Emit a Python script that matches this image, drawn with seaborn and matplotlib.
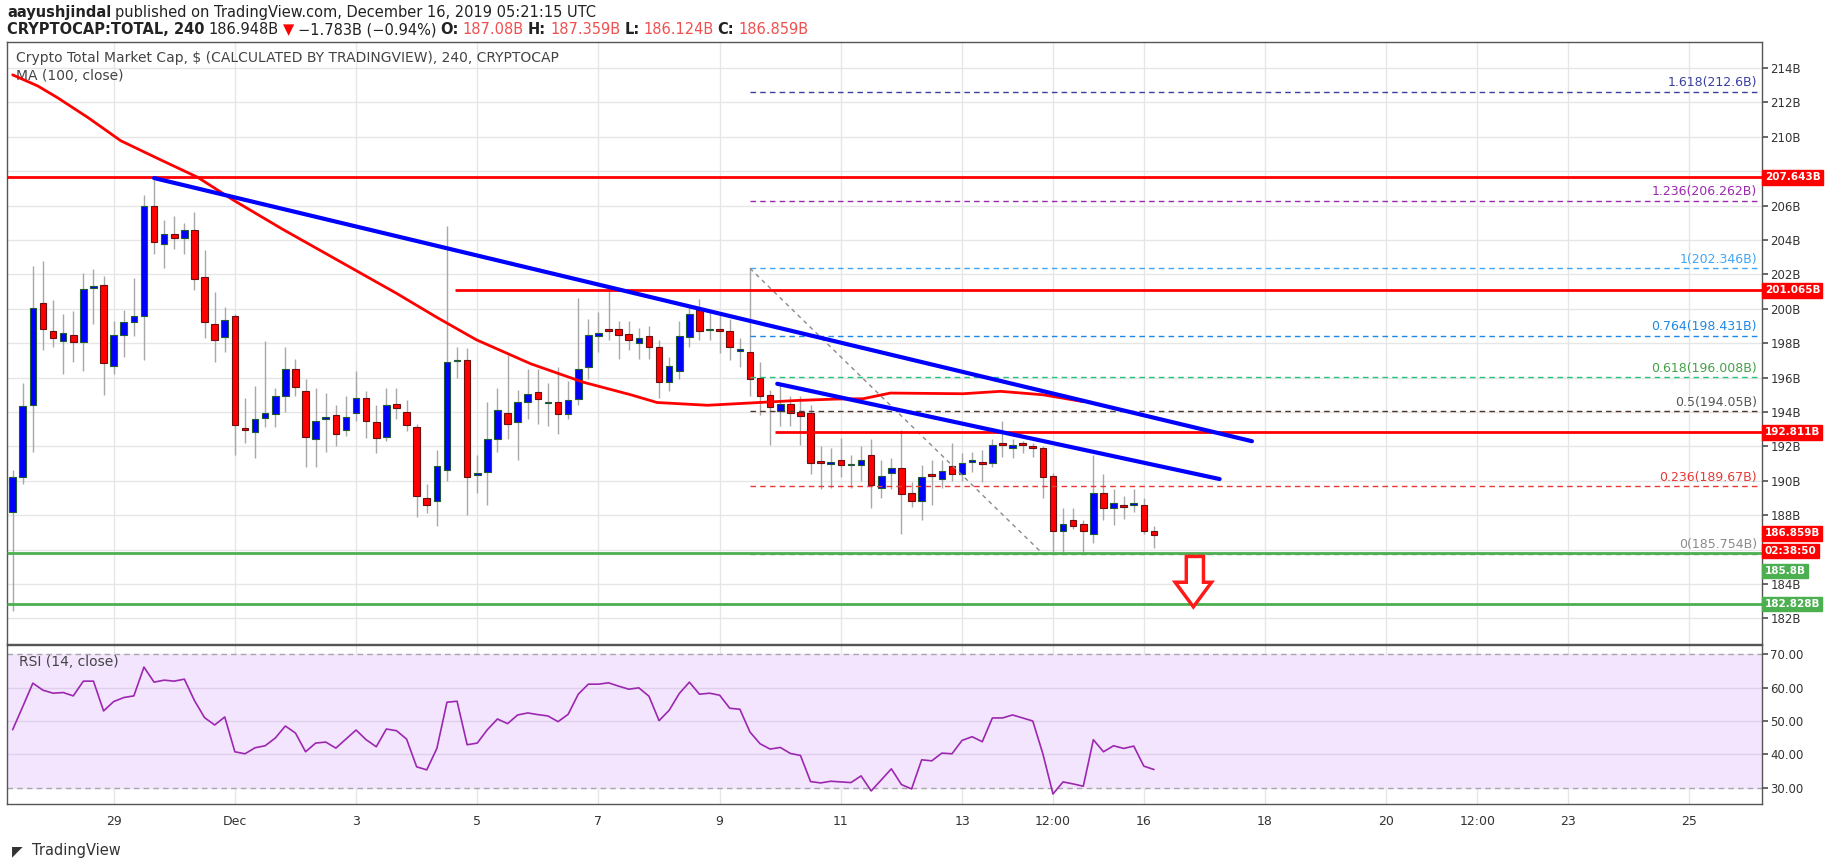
import numpy as np
import pandas as pd
import seaborn as sns
import matplotlib.pyplot as plt
from matplotlib.patches import Polygon
from matplotlib.transforms import blended_transform_factory

# 4h candles, index 0 = Nov 27 ~08:00
opens = [188.2, 190.2, 194.4, 200.35, 198.7, 198.1, 198.5, 198.05, 201.2, 201.4,
         196.65, 198.5, 199.25, 199.6, 205.95, 203.75, 204.37, 204.1, 204.6, 201.85,
         199.14, 198.33, 199.6, 193.0, 192.85, 193.65, 193.9, 194.9, 196.5, 195.2,
         192.4, 193.6, 193.8, 192.96, 193.94, 194.8, 193.4, 192.56, 194.46, 194.0,
         193.14, 188.98, 188.8, 190.64, 196.95, 197.05, 190.35, 190.5, 192.4, 193.94,
         193.4, 194.6, 195.15, 194.5, 194.57, 193.9, 194.75, 196.6, 198.39, 198.75,
         198.8, 198.56, 198.0, 198.4, 197.8, 195.73, 196.4, 198.33, 199.94, 198.75,
         198.75, 198.7, 197.55, 197.46, 196.0, 194.96, 194.06, 194.44, 193.98, 193.94,
         191.15, 191.0, 191.23, 190.9, 190.9, 191.5, 189.6, 190.43, 190.77, 189.3,
         188.8, 190.4, 190.1, 190.83, 190.4, 191.12, 191.06, 191.06, 192.12, 191.9,
         192.12, 192.0, 191.9, 190.3, 187.1, 187.7, 187.5, 186.9, 189.3, 188.4,
         188.52, 188.58, 188.6, 187.08]
highs = [190.6, 195.7, 202.5, 202.8, 200.5, 199.7, 199.85, 202.1, 202.3, 201.9,
         199.3, 199.9, 201.8, 206.6, 207.5, 205.15, 205.4, 205.0, 205.6, 203.4,
         201.0, 200.1, 199.7, 194.8, 195.5, 198.1, 195.4, 197.75, 197.1, 195.9,
         195.4, 195.1, 194.4, 194.9, 196.4, 195.2, 194.4, 195.4, 195.4, 194.7,
         193.3, 189.8, 191.8, 204.8, 197.75, 197.7, 191.5, 194.6, 195.4, 197.3,
         195.3, 196.5, 196.5, 195.7, 196.6, 195.8, 200.6, 199.4, 199.8, 201.1,
         199.3, 199.3, 198.9, 199.0, 198.2, 197.2, 199.3, 200.2, 200.54, 200.0,
         199.7, 199.4, 198.3, 202.35, 196.9, 195.3, 195.7, 194.9, 194.9, 194.4,
         192.0, 191.9, 192.5, 191.5, 192.0, 192.4, 191.2, 191.3, 192.95, 189.9,
         190.9, 191.2, 191.2, 192.2, 191.6, 191.7, 191.8, 192.4, 193.5, 192.4,
         192.3, 192.2, 192.0, 190.46, 188.4, 188.4, 187.7, 191.5, 190.4, 189.5,
         189.1, 189.5, 189.0, 187.36]
lows = [182.4, 189.8, 191.7, 197.6, 197.8, 196.2, 196.9, 196.4, 199.1, 195.0,
        196.2, 197.2, 198.4, 197.0, 203.2, 202.35, 203.45, 203.2, 201.1, 198.3,
        196.9, 197.5, 191.5, 192.2, 191.3, 193.1, 193.1, 194.0, 194.9, 190.8,
        190.8, 191.7, 192.0, 192.6, 193.5, 192.5, 191.6, 192.3, 193.6, 192.9,
        187.9, 188.1, 187.35, 190.0, 196.0, 188.0, 189.3, 188.6, 191.7, 192.4,
        191.2, 193.6, 193.3, 193.2, 192.7, 193.6, 194.4, 195.9, 197.5, 198.2,
        197.1, 197.6, 197.1, 197.1, 194.8, 195.2, 195.9, 197.8, 198.2, 198.2,
        197.4, 197.0, 196.6, 194.9, 193.8, 192.1, 193.2, 193.2, 192.1, 190.4,
        189.5, 189.6, 190.2, 189.6, 190.0, 188.4, 189.0, 189.5, 186.9, 188.5,
        187.7, 188.6, 189.6, 190.0, 190.0, 190.5, 189.9, 190.8, 191.4, 191.3,
        191.6, 191.4, 189.0, 185.75, 185.75, 187.2, 185.75, 186.4, 187.7, 187.4,
        187.8, 188.2, 186.9, 186.12]
closes = [190.2, 194.35, 200.06, 198.85, 198.3, 198.6, 198.05, 201.15, 201.25, 196.85,
          198.5, 199.25, 199.6, 205.95, 203.87, 204.37, 204.14, 204.56, 201.73, 199.25,
          198.2, 199.37, 193.25, 192.95, 193.6, 193.94, 194.9, 196.5, 195.44, 192.56,
          193.5, 193.62, 192.7, 193.7, 194.8, 193.46, 192.5, 194.4, 194.21, 193.23,
          189.14, 188.62, 190.83, 196.9, 197.05, 190.23, 190.45, 192.4, 194.13, 193.3,
          194.6, 195.04, 194.75, 194.55, 193.88, 194.7, 196.48, 198.5, 198.6, 198.7,
          198.45, 198.2, 198.3, 197.75, 195.73, 196.7, 198.4, 199.7, 198.7, 198.8,
          198.7, 197.75, 197.6, 195.9, 194.9, 194.29, 194.44, 193.94, 193.77, 191.06,
          191.05, 191.04, 190.94, 190.92, 191.23, 189.77, 190.25, 190.77, 189.25, 188.85,
          190.2, 190.25, 190.54, 190.4, 191.06, 191.18, 191.0, 192.06, 192.08, 192.1,
          192.08, 191.9, 190.23, 187.06, 187.5, 187.35, 187.1, 189.3, 188.4, 188.7,
          188.48, 188.62, 187.1, 186.86]

ma_idx = [0, 2.5, 4.5, 7.5, 10.7, 14.5, 18.3, 21.9, 26.8, 32.4, 38, 42, 45.9, 51.3,
          56.5, 61.2, 63.8, 68.8, 77.7, 81.5, 84.2, 86.9, 94.1, 97.8, 102, 106]
ma_val = [213.6, 212.95, 212.25, 211.1, 209.77, 208.7, 207.65, 206.3, 204.6, 202.75,
          200.9, 199.5, 198.2, 196.8, 195.73, 195.0, 194.55, 194.39, 194.67, 194.75,
          194.77, 195.1, 195.06, 195.2, 195.0, 194.6]

rsi = [47.4, 54.3, 61.3, 59.2, 58.3, 58.5, 57.5, 61.9, 61.9, 53.0,
       55.8, 57.0, 57.5, 66.1, 61.6, 62.2, 61.9, 62.5, 56.1, 51.0,
       48.8, 51.2, 40.8, 40.2, 42.0, 42.6, 44.9, 48.5, 46.4, 40.8,
       43.4, 43.7, 41.9, 44.6, 47.3, 44.4, 42.3, 47.6, 47.1, 44.6,
       36.3, 35.4, 41.8, 55.6, 55.9, 42.9, 43.4, 47.4, 50.6, 49.2,
       51.8, 52.4, 51.9, 51.5, 49.8, 52.0, 58.0, 61.0, 61.0, 61.4,
       60.4, 59.5, 59.9, 57.4, 50.1, 53.2, 58.2, 61.6, 58.0, 58.3,
       57.7, 53.8, 53.5, 46.7, 43.2, 41.6, 42.1, 40.3, 39.7, 31.9,
       31.5, 32.0, 31.8, 31.6, 33.6, 29.1, 32.4, 35.7, 31.0, 29.7,
       38.4, 38.1, 40.4, 40.2, 44.2, 45.3, 43.8, 50.9, 50.9, 51.8,
       50.9, 50.0, 40.2, 28.2, 31.8, 31.2, 30.5, 44.4, 40.8, 42.6,
       41.8, 42.5, 36.5, 35.5]

tick_pos = [10, 22, 34, 46, 58, 70, 82, 94, 103, 112, 124, 136, 145, 154, 166]
tick_labels = ["29", "Dec", "3", "5", "7", "9", "11", "13", "12:00", "16",
               "18", "20", "12:00", "23", "25"]

price_ticks = list(range(182, 216, 2))
hidden_ticks = [186, 208]  # covered by the price boxes

fib_ratio = ["1.618", "1.236", "1", "0.764", "0.618", "0.5", "0.236", "0"]
fib_price = [212.6, 206.262, 202.346, 198.431, 196.008, 194.05, 189.67, 185.754]
fib_color = ["#3a3f9f", "#9c27b0", "#42a5f5", "#1e88e5", "#26c281", "#4e342e",
             "#e53935", "#8a8a8a"]
fib_label_color = ["#3a3f9f", "#9c27b0", "#42a5f5", "#1e88e5", "#43a047", "#555555",
                   "#e53935", "#8a8a8a"]

sns.set_theme(style="white")
W, H = 1828, 868
fig = plt.figure(figsize=(W / 100, H / 100), dpi=100)
ax = fig.add_axes([7 / W, 1 - 644 / H, 1755 / W, 602 / H])
rax = fig.add_axes([7 / W, 1 - 804 / H, 1755 / W, 159 / H], sharex=ax)

df = pd.DataFrame({"o": opens, "h": highs, "l": lows, "c": closes})
df["i"] = np.arange(len(df))
up = df["c"] >= df["o"]

for a in (ax, rax):
    for t in tick_pos:
        a.axvline(t, color="#e6e6e6", lw=1, zorder=0)
    for s in a.spines.values():
        s.set_color("#555555")
        s.set_linewidth(1)
for p in price_ticks:
    ax.axhline(p, color="#e6e6e6", lw=1, zorder=0)

# candles
ax.vlines(df["i"], df["l"], df["h"], color="#a8a8a8", lw=1, zorder=2)
body = (df["c"] - df["o"]).abs().clip(lower=0.1)
bottom = df[["o", "c"]].min(axis=1)
ax.bar(df["i"][up], body[up], bottom=bottom[up], width=0.65, color="#0000ff",
       edgecolor="#1e5a32", lw=0.8, zorder=3)
ax.bar(df["i"][~up], body[~up], bottom=bottom[~up], width=0.65, color="#ff0000",
       edgecolor="#6a1010", lw=0.8, zorder=3)

# moving average
sns.lineplot(x=ma_idx, y=ma_val, ax=ax, color="#ff0000", lw=2, zorder=4)

xmin, xmax = -0.56, 173.2
# horizontal levels
ax.hlines(207.643, xmin, xmax, color="#ff0000", lw=2, zorder=4)
ax.hlines(201.065, 43.8, xmax, color="#ff0000", lw=2, zorder=4)
ax.hlines(192.811, 75.5, xmax, color="#ff0000", lw=2, zorder=4)
ax.hlines([185.8, 182.828], xmin, xmax, color="#4caf50", lw=2, zorder=4)

# fib retracement
for r, p, c, lc in zip(fib_ratio, fib_price, fib_color, fib_label_color):
    ax.hlines(p, 73, xmax - 0.3, color=c, lw=1, linestyles=(0, (4, 3)), zorder=3)
    ax.text(172.7, p + 0.15, f"{r}({p:g}B)", color=lc, fontsize=9, ha="right",
            va="bottom", zorder=5)
ax.plot([73, 102], [202.35, 185.75], color="#8a8a8a", lw=1, ls=(0, (3, 3)), zorder=3)

# trend lines
ax.plot([14, 122.7], [207.6, 192.3], color="#0000ff", lw=3, zorder=5)
ax.plot([75.7, 119.5], [195.64, 190.1], color="#0000ff", lw=3, zorder=5)

# down arrow
arrow = Polygon([[116.2, 185.6], [117.9, 185.6], [117.9, 184.1], [118.7, 184.1],
                 [116.9, 182.67], [115.1, 184.1], [116.2, 184.1]], closed=True,
                facecolor="white", edgecolor="#ff1a1a", lw=2.5, zorder=6)
ax.add_patch(arrow)

ax.set_xlim(xmin, xmax)
ax.set_ylim(180.51, 215.51)
ax.yaxis.tick_right()
ax.set_yticks(price_ticks)
ax.set_yticklabels(["" if p in hidden_ticks else f"{p}B" for p in price_ticks])
ax.tick_params(axis="y", labelsize=8.5, colors="#555555", labelcolor="#333333",
               length=4, pad=2)
ax.tick_params(axis="x", bottom=False, labelbottom=False)

tr = blended_transform_factory(ax.transAxes, ax.transData)
for p, txt, col in [(207.643, "207.643B", "#ff0000"), (201.065, "201.065B", "#ff0000"),
                    (192.811, "192.811B", "#ff0000"), (186.95, "186.859B", "#ff0000"),
                    (185.92, "02:38:50", "#ff0000"), (184.75, "185.8B", "#4caf50"),
                    (182.828, "182.828B", "#4caf50")]:
    ax.text(1.0015, p, txt, transform=tr, color="white", fontsize=7.5, fontweight="bold",
            va="center", ha="left", zorder=7, clip_on=False,
            bbox=dict(boxstyle="square,pad=0.22", facecolor=col, edgecolor=col))

ax.text(0.005, 0.985, "Crypto Total Market Cap, \\$ (CALCULATED BY TRADINGVIEW), 240, CRYPTOCAP",
        transform=ax.transAxes, fontsize=10, color="#444444", va="top")
ax.text(0.005, 0.955, "MA (100, close)", transform=ax.transAxes, fontsize=10,
        color="#444444", va="top")
ax.set_xlabel("")
ax.set_ylabel("")

# RSI panel
rax.axhspan(30, 70, color="#f3e5fd", zorder=0)
for p in (40, 50, 60):
    rax.axhline(p, color="#e0d0ec", lw=1, zorder=1)
for p in (30, 70):
    rax.axhline(p, color="#a8a8a8", lw=1, ls=(0, (4, 3)), zorder=1)
sns.lineplot(x=df["i"], y=rsi, ax=rax, color="#9c27b0", lw=1.2, zorder=3)
rax.set_ylim(25.2, 72.7)
rax.yaxis.tick_right()
rax.set_yticks([30, 40, 50, 60, 70])
rax.set_yticklabels(["30.00", "40.00", "50.00", "60.00", "70.00"])
rax.tick_params(axis="y", labelsize=8.5, colors="#555555", labelcolor="#333333",
                length=4, pad=2)
rax.set_xticks(tick_pos)
rax.set_xticklabels(tick_labels)
rax.tick_params(axis="x", labelsize=9, colors="#555555", labelcolor="#333333", length=4, pad=4)
rax.text(0.007, 0.94, "RSI (14, close)", transform=rax.transAxes, fontsize=10,
         color="#444444", va="top")
rax.set_xlabel("")
rax.set_ylabel("")

# header, pieces laid out one after another
renderer = fig.canvas.get_renderer()


def write_line(y, parts, x0=7, size=10.5):
    x = x0
    for txt, col, bold in parts:
        t = fig.text(x / W, 1 - y / H, txt, fontsize=size, color=col,
                     fontweight="bold" if bold else "normal", va="center")
        x = t.get_window_extent(renderer).x1 + 4


write_line(13, [("aayushjindal", "#222222", True),
                ("published on TradingView.com, December 16, 2019 05:21:15 UTC", "#222222", False)])
write_line(30, [("CRYPTOCAP:TOTAL, 240", "#222222", True),
                ("186.948B", "#222222", False), ("\u25bc", "#ff0000", False),
                ("\u22121.783B (\u22120.94%)", "#222222", False),
                ("O:", "#222222", True), ("187.08B", "#f05050", False),
                ("H:", "#222222", True), ("187.359B", "#f05050", False),
                ("L:", "#222222", True), ("186.124B", "#f05050", False),
                ("C:", "#222222", True), ("186.859B", "#f05050", False)])

# footer
fig.text(12 / W, 1 - 851 / H, "\u25e4", fontsize=10, color="#333333", va="center")
fig.text(32 / W, 1 - 851 / H, "TradingView", fontsize=10.5, color="#333333", va="center")

fig.savefig("out.png", dpi=100, facecolor="white")
